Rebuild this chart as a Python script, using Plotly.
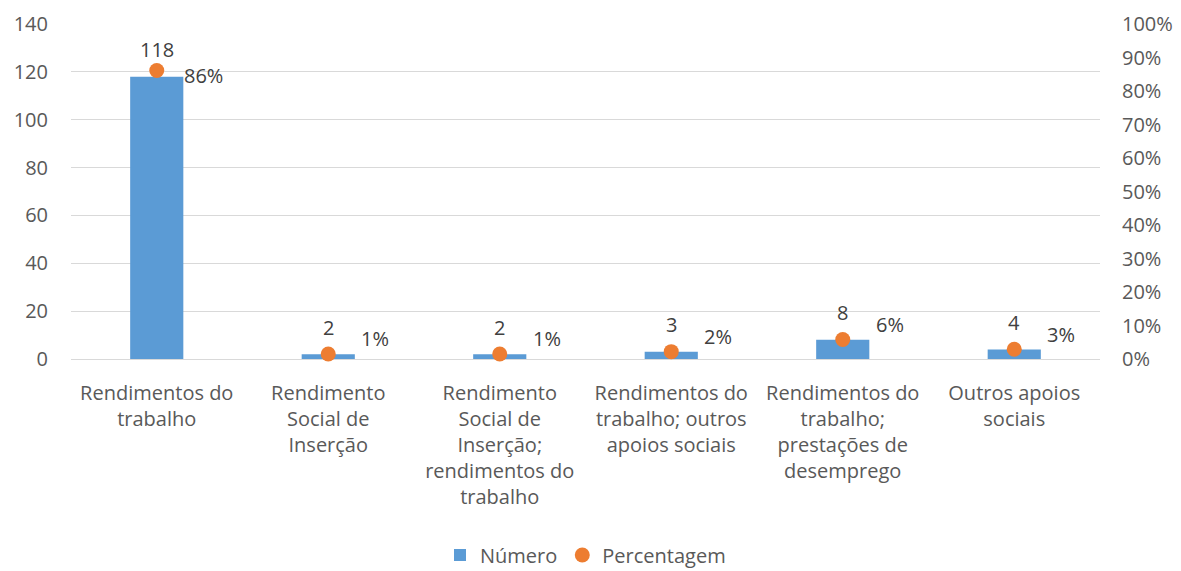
import plotly.graph_objects as go

categories = [
    "Rendimentos do<br>trabalho",
    "Rendimento<br>Social de<br>Inserção",
    "Rendimento<br>Social de<br>Inserção;<br>rendimentos do<br>trabalho",
    "Rendimentos do<br>trabalho; outros<br>apoios sociais",
    "Rendimentos do<br>trabalho;<br>prestações de<br>desemprego",
    "Outros apoios<br>sociais",
]
numero = [118, 2, 2, 3, 8, 4]
percentagem = [0.861, 0.015, 0.015, 0.022, 0.058, 0.029]
pct_labels = ["86%", "1%", "1%", "2%", "6%", "3%"]
left_ticks = [0, 20, 40, 60, 80, 100, 120, 140]
right_ticks = [0, 0.1, 0.2, 0.3, 0.4, 0.5, 0.6, 0.7, 0.8, 0.9, 1.0]

FONT = "Open Sans"
FS = 20
TICK_COLOR = "#595959"
LABEL_COLOR = "#404040"

fig = go.Figure()
fig.add_trace(go.Bar(
    x=categories, y=numero, name="Número",
    marker=dict(color="#5B9BD5", line=dict(width=0)),
    width=0.31,
))
fig.add_trace(go.Scatter(
    x=categories, y=percentagem, name="Percentagem", yaxis="y2",
    mode="markers",
    marker=dict(color="#ED7D31", size=15),
    cliponaxis=False,
))

annotations = []
for c, v in zip(categories, numero):
    annotations.append(dict(
        x=c, y=v, xref="x", yref="y", text=str(v), showarrow=False,
        yshift=27, font=dict(family=FONT, size=FS, color=LABEL_COLOR),
    ))
for c, p, lab in zip(categories, percentagem, pct_labels):
    annotations.append(dict(
        x=c, y=p, xref="x", yref="y2", text=lab, showarrow=False,
        xshift=47, yshift=(-5 if p > 0.5 else 15),
        font=dict(family=FONT, size=FS, color=LABEL_COLOR),
    ))

# page body has an 8px default margin, so the figure is sized to fit the window
fig.update_layout(
    width=1173, height=563,
    margin=dict(l=63, r=81, t=16, b=212, autoexpand=False),
    paper_bgcolor="white", plot_bgcolor="white",
    font=dict(family=FONT, size=FS, color=TICK_COLOR),
    showlegend=True,
    legend=dict(orientation="h", x=0.5, xanchor="center", y=-0.585, yanchor="middle",
                font=dict(family=FONT, size=FS, color=TICK_COLOR)),
    annotations=annotations,
    xaxis=dict(showgrid=False, showline=False, ticks="outside", ticklen=16,
               tickcolor="rgba(0,0,0,0)", automargin=False,
               tickfont=dict(size=FS, color=TICK_COLOR)),
    yaxis=dict(range=[0, 140], tickvals=left_ticks, showgrid=True, gridcolor="#D9D9D9",
               gridwidth=1, zeroline=True, zerolinecolor="#D9D9D9", zerolinewidth=1,
               showline=False, ticks="outside", ticklen=18, tickcolor="rgba(0,0,0,0)",
               automargin=False, tickfont=dict(size=FS, color=TICK_COLOR)),
    yaxis2=dict(range=[0, 1], tickvals=right_ticks, tickformat=".0%", overlaying="y",
                side="right", showgrid=False, zeroline=False, showline=False,
                ticks="outside", ticklen=17, tickcolor="rgba(0,0,0,0)", automargin=False,
                tickfont=dict(size=FS, color=TICK_COLOR)),
)

fig.write_html("out.html")
